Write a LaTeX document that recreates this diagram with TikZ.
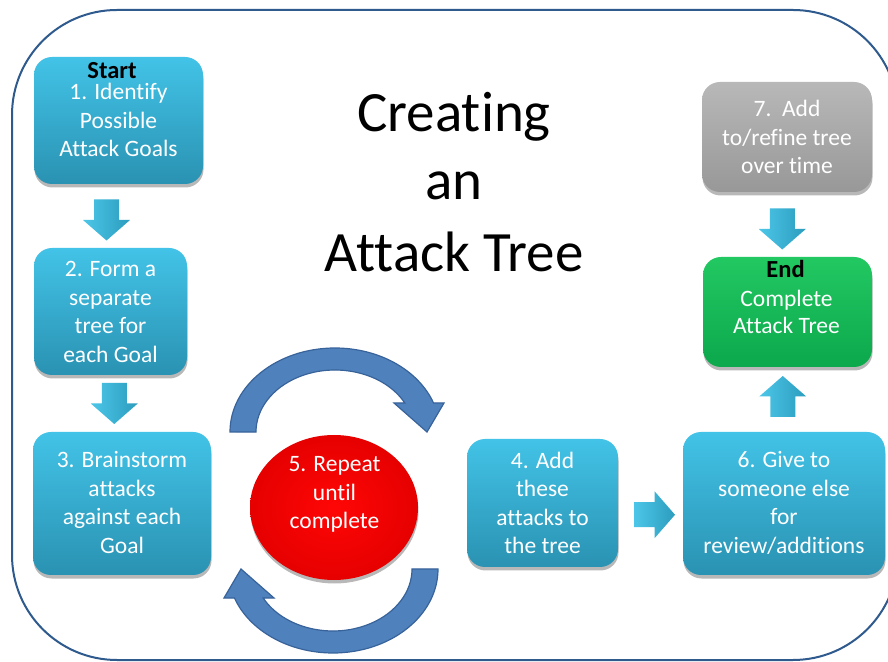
\documentclass[tikz,border=0pt]{standalone}
\usepackage{fontspec}
\setmainfont{Carlito}[Ligatures={NoCommon}]
\usetikzlibrary{shadows,calc,shapes.geometric}

\definecolor{frameblue}{HTML}{2F5A8E}
\definecolor{cyanTop}{HTML}{42C3E7}
\definecolor{cyanBot}{HTML}{2A92B2}
\definecolor{greyTop}{HTML}{B8B8B8}
\definecolor{greyBot}{HTML}{989898}
\definecolor{greenTop}{HTML}{22C862}
\definecolor{greenBot}{HTML}{0CA84C}
\definecolor{redIn}{HTML}{FF0606}
\definecolor{redOut}{HTML}{E60000}
\definecolor{loopFill}{HTML}{4F81BD}
\definecolor{loopLine}{HTML}{38639A}
\definecolor{arrLight}{HTML}{4CC6E8}
\definecolor{arrDark}{HTML}{2C9DBE}

\tikzset{
  softshadow/.style={drop shadow={shadow xshift=0.5pt, shadow yshift=-3.5pt, opacity=0.28, fill=black}},
  stepbox/.style={rounded corners=18pt, inner sep=0pt, outer sep=0pt,
    top color=cyanTop, bottom color=cyanBot, softshadow},
  greybox/.style={stepbox, top color=greyTop, bottom color=greyBot},
  greenbox/.style={stepbox, top color=greenTop, bottom color=greenBot},
  % multi-line texts are placed by the baseline of their last line
  steptext/.style={text=white, font=\fontsize{23.5}{28.5}\selectfont,
    align=center, anchor=base, inner sep=0pt},
  headtext/.style={text=black, font=\bfseries\fontsize{24.5}{28}\selectfont,
    anchor=base, inner sep=0pt},
  titletext/.style={text=black, font=\fontsize{57}{70}\selectfont,
    anchor=base, inner sep=0pt},
  % small block arrow, pointing along +x, centred on the origin
  blockarrow/.pic={
    \path[left color=arrLight, right color=arrDark]
      (-20.5,12.5) -- (0,12.5) -- (0,23.5) -- (20.5,0) -- (0,-23.5)
      -- (0,-12.5) -- (-20.5,-12.5) -- cycle;
  },
  % curved arrow of the repeat loop, centred on its ellipse
  cyclearrow/.pic={
    \path[fill=loopFill, draw=loopLine, line width=1.2pt, line join=miter]
      (-105,0) arc[start angle=180, end angle=20.2, x radius=105, y radius=84]
      -- (109,29) -- (92,0) -- (59,29) -- (69.8,29)
      arc[start angle=27.9, end angle=180, x radius=79, y radius=62]
      -- cycle;
  }
}

\begin{document}
\begin{tikzpicture}[x=1pt,y=1pt]
  \useasboundingbox (0,0) rectangle (888,661);
  \fill[white] (0,0) rectangle (888,661);

  % outer frame
  \draw[frameblue, line width=2pt, rounded corners=105pt] (12,651) rectangle (898,1);

  % title
  \node[titletext] (title1) at (454,529) {Creating};
  \node[titletext] (title2) at (454,461) {an};
  \node[titletext] (title3) at (454,389) {Attack Tree};

  % step boxes
  \node[stepbox, minimum width=169pt, minimum height=127pt] (b1) at (118.5,540.5) {};
  \node[stepbox, minimum width=153pt, minimum height=127pt] (b2) at (110.5,349.5) {};
  \node[stepbox, minimum width=178pt, minimum height=143pt] (b3) at (122,157.5) {};
  \node[stepbox, minimum width=151pt, minimum height=128pt] (b4) at (542.5,158) {};
  \node[stepbox, minimum width=202pt, minimum height=143pt] (b6) at (784,157.5) {};
  \node[greybox, minimum width=170pt, minimum height=110pt] (b7) at (787,524) {};
  \node[greenbox, minimum width=169pt, minimum height=110pt] (bend) at (787.5,349) {};
  \node[ellipse, inner sep=0pt, minimum width=168pt, minimum height=145pt,
        inner color=redIn, outer color=redOut, softshadow] (b5) at (334,153.5) {};

  % box texts
  \node[headtext] (t1h) at (112,582.5) {Start};
  \node[steptext] (t1) at (118.5,504) {1. Identify\\Possible\\Attack Goals};
  \node[steptext] (t2) at (110.5,298.5) {2. Form a\\separate\\tree for\\each Goal};
  \node[steptext] (t3) at (122,107.5) {3. Brainstorm\\attacks\\against each\\Goal};
  \node[steptext] (t4) at (542.5,107) {4. Add\\these\\attacks to\\the tree};
  \node[steptext] (t5) at (334.5,132) {5. Repeat\\until\\complete};
  \node[steptext] (t6) at (784,107.5) {6. Give to\\someone else\\for\\review/additions};
  \node[steptext] (t7) at (787,487) {7.~~Add\\to/refine tree\\over time};
  \node[headtext] (tendh) at (785.5,383) {End};
  \node[steptext, font=\fontsize{23.5}{27}\selectfont] (tend) at (786.5,327.5) {Complete\\Attack Tree};

  % block arrows between the boxes
  \pic[rotate=-90] at ($(b1.south)!0.5!(b2.north)+(-8,-4)$) {blockarrow};
  \pic[rotate=-90] at ($(b2.south)!0.5!(b3.north)+(-2,0)$) {blockarrow};
  \pic at ($(b4.east)!0.5!(b6.west)+(4,-11.5)$) {blockarrow};
  \pic[rotate=90] at ($(b6.north)!0.5!(bend.south)+(-3,3)$) {blockarrow};
  \pic[rotate=-90] at ($(b7.south)!0.5!(bend.north)+(-5,-4.5)$) {blockarrow};

  % repeat loop around step 5
  \pic at (335,229) {cyclearrow};
  \pic[rotate=180] at (333,92) {cyclearrow};
\end{tikzpicture}
\end{document}
